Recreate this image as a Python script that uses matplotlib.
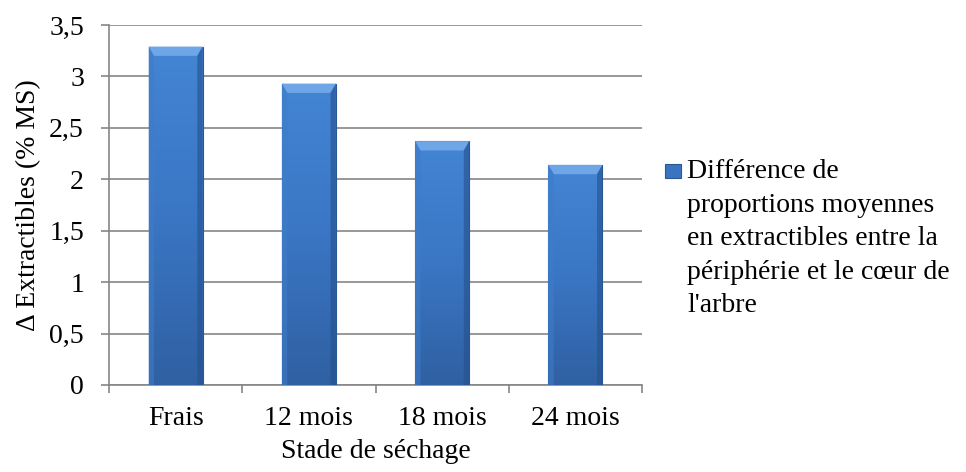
import numpy as np
import matplotlib.pyplot as plt
from matplotlib.colors import LinearSegmentedColormap
from matplotlib.patches import Polygon

categories = ['Frais', '12 mois', '18 mois', '24 mois']
values = [3.29, 2.93, 2.37, 2.14]
y_ticks = [0, 0.5, 1, 1.5, 2, 2.5, 3, 3.5]
y_labels = ['0', '0,5', '1', '1,5', '2', '2,5', '3', '3,5']
legend_label = ("Différence de\nproportions moyennes\nen extractibles entre la\n"
                "périphérie et le cœur de\nl'arbre")

plt.rcParams['font.family'] = ['Liberation Serif', 'DejaVu Serif']
FS = 20

fig = plt.figure(figsize=(9.66, 4.72), dpi=100)
ax = fig.add_axes([109 / 966, 1 - 385 / 472, 533 / 966, 360 / 472])

x = np.arange(len(categories))
width = 0.405
bars = ax.bar(x, values, width=width, color='#3a74c0', edgecolor='#2b5894',
              linewidth=0.8, zorder=3)

# vertical gradient inside each bar + bevel on top/sides
cmap = LinearSegmentedColormap.from_list('bar', ['#2f60a2', '#3a76c4', '#4385d4'])
grad = np.linspace(0, 1, 256).reshape(-1, 1)
for b in bars:
    x0, x1 = b.get_x(), b.get_x() + b.get_width()
    top = b.get_height()
    im = ax.imshow(grad, cmap=cmap, origin='lower', aspect='auto',
                   extent=[x0, x1, 0, top], zorder=3.5)
    im.set_clip_path(b)
    bev_x = 0.04
    bev_y = 0.09
    ax.add_patch(Polygon([[x0, top], [x1, top], [x1 - bev_x, top - bev_y],
                          [x0 + bev_x, top - bev_y]], closed=True,
                         facecolor='#6ea6e8', edgecolor='none', zorder=4))
    ax.add_patch(Polygon([[x0, top], [x0 + bev_x, top - bev_y],
                          [x0 + bev_x, 0], [x0, 0]], closed=True,
                         facecolor='#3f7cc8', alpha=0.6, edgecolor='none', zorder=4))
    ax.add_patch(Polygon([[x1, top], [x1 - bev_x, top - bev_y],
                          [x1 - bev_x, 0], [x1, 0]], closed=True,
                         facecolor='#25508c', alpha=0.6, edgecolor='none', zorder=4))

ax.set_xlim(-0.5, len(categories) - 0.5)
ax.set_ylim(0, 3.5)
ax.set_yticks(y_ticks)
ax.set_yticklabels(y_labels, fontsize=FS)
ax.set_xticks(x)
ax.set_xticklabels(categories, fontsize=FS)
ax.set_xticks(np.arange(-0.5, len(categories)), minor=True)
ax.tick_params(axis='x', which='major', length=0, pad=15)
ax.tick_params(axis='x', which='minor', length=6, width=1.2, color='#868686',
               direction='out')
ax.tick_params(axis='y', length=6, width=1.2, color='#868686', direction='out',
               pad=12)

ax.grid(axis='y', color='#868686', linewidth=1.2, zorder=0)
for s in ['top', 'right']:
    ax.spines[s].set_visible(False)
for s in ['left', 'bottom']:
    ax.spines[s].set_color('#868686')
    ax.spines[s].set_linewidth(1.2)

ax.set_xlabel('Stade de séchage', fontsize=FS, labelpad=6)
ax.set_ylabel('Δ Extractibles (% MS)', fontsize=FS, labelpad=6)

# legend
fig.patches.append(plt.Rectangle((665 / 966, 1 - 178 / 472), 16 / 966, 14 / 472,
                                 transform=fig.transFigure, facecolor='#3a74c0',
                                 edgecolor='#2b5894', linewidth=0.8))
fig.text(687 / 966, 1 - 159 / 472, legend_label, fontsize=FS, va='top', ha='left',
         linespacing=1.45)

fig.savefig('out.png', dpi=100)
